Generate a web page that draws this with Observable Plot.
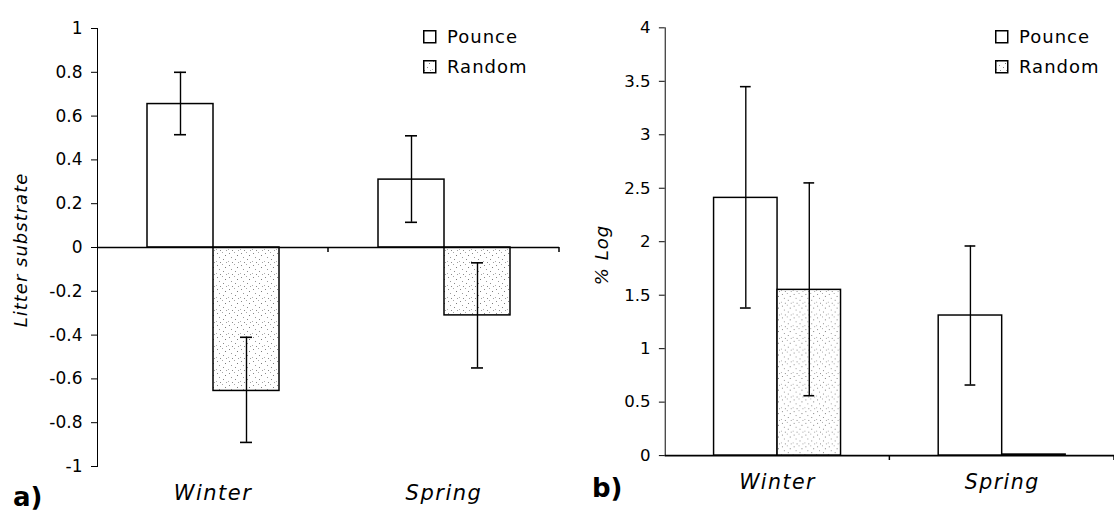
<!DOCTYPE html>
<html>
<head>
<meta charset="utf-8">
<script src="https://cdn.jsdelivr.net/npm/d3@7"></script>
<script src="https://cdn.jsdelivr.net/npm/@observablehq/plot@0.6"></script>
<style>
html, body { margin: 0; padding: 0; background: #fff; }
#wrap { position: relative; width: 1114px; height: 513px; overflow: hidden; font-family: "DejaVu Sans", sans-serif; }
.panel { position: absolute; top: 0; }
.panel svg { display: block; overflow: visible; }
#overlay { position: absolute; left: 0; top: 0; pointer-events: none; }
[aria-label="y-axis"] .domain, [aria-label="y-axis"] .tick line, [aria-label="y-axis"] path, [aria-label="y-axis"] line { stroke-width: 1.6px; }
[aria-label="y-axis"] text { letter-spacing: 0.5px; }
</style>
</head>
<body>
<svg width="0" height="0" style="position:absolute">
  <defs>
    <pattern id="stipple" width="12" height="12" patternUnits="userSpaceOnUse">
      <rect width="12" height="12" fill="#fff"/>
      <rect x="1" y="1" width="1" height="1" fill="#8a8a8a"/>
      <rect x="6" y="0" width="1" height="1" fill="#a8a8a8"/>
      <rect x="9" y="3" width="1" height="1" fill="#7a7a7a"/>
      <rect x="3" y="5" width="1" height="1" fill="#9a9a9a"/>
      <rect x="7" y="7" width="1" height="1" fill="#8a8a8a"/>
      <rect x="0" y="9" width="1" height="1" fill="#b0b0b0"/>
      <rect x="4" y="10" width="1" height="1" fill="#8a8a8a"/>
      <rect x="10" y="10" width="1" height="1" fill="#a0a0a0"/>
    </pattern>
  </defs>
</svg>
<div id="wrap">
  <div class="panel" id="pa" style="left:0px"></div>
  <div class="panel" id="pb" style="left:570px"></div>
  <svg id="overlay" width="1114" height="513"></svg>
</div>
<script>
// ---- data ----
const seasons = ["Winter", "Spring"];
const series = ["Pounce", "Random"];
const seriesFill = ["white", "url(#stipple)"];

const litterPounce   = [0.655, 0.31];
const litterPounceLo = [0.515, 0.115];
const litterPounceHi = [0.80, 0.51];
const litterRandom   = [-0.655, -0.31];
const litterRandomLo = [-0.89, -0.55];
const litterRandomHi = [-0.41, -0.07];

const logPounce   = [2.41, 1.31];
const logPounceLo = [1.38, 0.66];
const logPounceHi = [3.45, 1.96];
const logRandom   = [1.55, 0.01];
const logRandomLo = [0.56, null];
const logRandomHi = [2.55, null];

const litterTicks = [-1, -0.8, -0.6, -0.4, -0.2, 0, 0.2, 0.4, 0.6, 0.8, 1];
const logTicks = [0, 0.5, 1, 1.5, 2, 2.5, 3, 3.5, 4];

const panelLabels = ["a)", "b)"];
const yTitles = ["Litter substrate", "% Log"];

function rows(p, pl, ph, r, rl, rh) {
  return seasons.flatMap((s, i) => [
    {season: s, series: "Pounce", value: p[i], lo: pl[i], hi: ph[i]},
    {season: s, series: "Random", value: r[i], lo: rl[i], hi: rh[i]}
  ]);
}

const H = 513, MT = 28, MB = 47, ML = 97;

function panel(el, data, domain, ticks, width, marginRight) {
  const plot = Plot.plot({
    width, height: H, marginTop: MT, marginBottom: MB, marginLeft: ML, marginRight,
    style: {fontFamily: '"DejaVu Sans", sans-serif', fontSize: "17px", color: "#000", background: "transparent", overflow: "visible"},
    facet: {data, x: "season"},
    fx: {domain: seasons, padding: 0, label: null, axis: "bottom", tickSize: 0, tickPadding: 19},
    x: {domain: series, paddingInner: 0, paddingOuter: 0.75, axis: null},
    y: {domain, ticks, tickFormat: d => String(+d.toFixed(1)), tickSize: 6, tickPadding: 9, line: true, label: null},
    color: {domain: series, range: seriesFill},
    marks: [
      Plot.barY(data, {x: "series", y: "value", fill: "series", stroke: "black", strokeWidth: 1.5}),
      Plot.ruleY([0], {stroke: "black", strokeWidth: 1.6}),
      Plot.ruleX(data, {x: "series", y1: "lo", y2: "hi", stroke: "black", strokeWidth: 1.4}),
      Plot.tickY(data, {x: "series", y: "lo", insetLeft: 27, insetRight: 27, stroke: "black", strokeWidth: 1.6}),
      Plot.tickY(data, {x: "series", y: "hi", insetLeft: 27, insetRight: 27, stroke: "black", strokeWidth: 1.6})
    ]
  });
  document.getElementById(el).appendChild(plot);
  const svgNode = plot.tagName.toLowerCase() === "svg" ? plot : plot.querySelector("svg");
  const svg = d3.select(svgNode);
  // italic category labels
  svg.selectAll("text").filter(function () { return seasons.includes(this.textContent); })
    .style("font-style", "italic").style("font-size", "21px").style("letter-spacing", "1.5px");
  // category-separator ticks below the category axis (Excel style)
  const fx = d3.scaleBand(seasons, [ML, width - marginRight]).padding(0);
  const y = d3.scaleLinear(domain, [H - MB, MT]);
  seasons.forEach(s => {
    const xb = fx(s) + fx.bandwidth();
    svg.append("line").attr("x1", xb).attr("x2", xb).attr("y1", y(0)).attr("y2", y(0) + 5)
      .attr("stroke", "black").attr("stroke-width", 1.5);
  });
  return plot;
}

panel("pa", rows(litterPounce, litterPounceLo, litterPounceHi, litterRandom, litterRandomLo, litterRandomHi), [-1, 1], litterTicks, 570, 11);
panel("pb", rows(logPounce, logPounceLo, logPounceHi, logRandom, logRandomLo, logRandomHi), [0, 4], logTicks, 557, 0);

// ---- overlay texts: panel letters, y titles, legends ----
const ov = d3.select("#overlay").style("font-family", '"DejaVu Sans", sans-serif');
const letterPos = [[13, 506], [592, 497]];
panelLabels.forEach((t, i) => ov.append("text").attr("x", letterPos[i][0]).attr("y", letterPos[i][1])
  .attr("font-size", 26).attr("font-weight", "bold").text(t));

const titlePos = [[20, 250], [601, 255]];
yTitles.forEach((t, i) => ov.append("text")
  .attr("transform", `translate(${titlePos[i][0]},${titlePos[i][1]}) rotate(-90)`)
  .attr("text-anchor", "middle").attr("dominant-baseline", "central")
  .attr("font-size", 18).attr("font-style", "italic").attr("letter-spacing", 1).text(t));

const legendPos = [[423, 30], [995, 30]];
legendPos.forEach(([lx, ly]) => {
  series.forEach((s, j) => {
    ov.append("rect").attr("x", lx + 0.75).attr("y", ly + j * 30 + 0.75).attr("width", 12).attr("height", 12)
      .attr("fill", seriesFill[j]).attr("stroke", "black").attr("stroke-width", 1.5);
    ov.append("text").attr("x", lx + 24).attr("y", ly + j * 30 + 13)
      .attr("font-size", 18).attr("letter-spacing", 1).text(s);
  });
});
</script>
</body>
</html>
